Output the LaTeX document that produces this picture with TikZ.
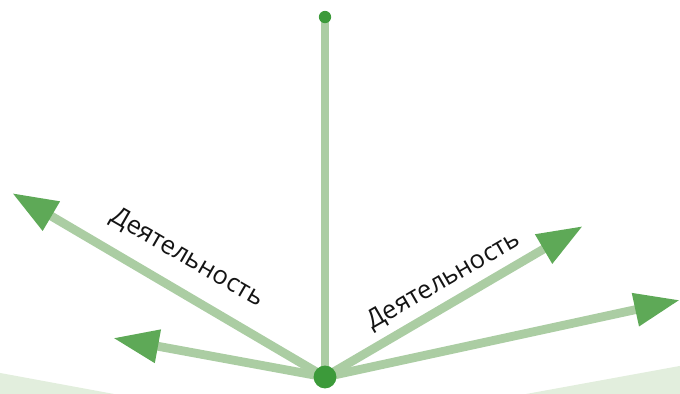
\documentclass[tikz,border=0pt]{standalone}
\usepackage{fontspec}
\setmainfont{Open Sans}
\usepackage{tikz}
\usetikzlibrary{arrows.meta,calc,positioning}
\definecolor{tallo}{HTML}{ABCDA3}
\definecolor{punta}{HTML}{5EA957}
\definecolor{centro}{HTML}{3C9A3A}
\definecolor{suelo}{HTML}{E2EEDD}
\definecolor{tinta}{HTML}{141414}
\tikzset{
  flecha/.style={draw=tallo,line width=5pt,-{Triangle[length=26pt,width=18pt,color=punta]}},
  eje/.style={draw=tallo,line width=4.5pt},
  nodocentro/.style={circle,fill=centro,inner sep=0pt,minimum size=13pt},
  nodotope/.style={circle,fill=centro,inner sep=0pt,minimum size=7pt},
  etiqueta/.style={font=\fontsize{14.5}{16}\selectfont,text=tinta,inner sep=1pt},
}
\begin{document}
\begin{tikzpicture}[x=0.02cm,y=-0.02cm]
\useasboundingbox (0,0) rectangle (680,393);
% suelo
\fill[suelo] (-5,372) -- (125,396) -- (-5,396) -- cycle;
\fill[suelo] (515,396) -- (685,365) -- (685,396) -- cycle;
\coordinate (c0) at (325,377);
\coordinate (c1) at (325,17);
\coordinate (p1) at (12,193);
\coordinate (p2) at (113,338);
\coordinate (p3) at (583,226);
\coordinate (p4) at (680,300);
\draw[eje] (c0) -- (c1);
\draw[flecha] (c0) -- (p1);
\draw[flecha] (c0) -- (p2);
\draw[flecha] (c0) -- (p3);
\draw[flecha] (c0) -- (p4);
\node[nodocentro] (n0) at (c0) {};
\node[nodotope] (n1) at (c1) {};
\node[etiqueta,rotate=-30] (e1) at (187,258) {Деятельность};
\node[etiqueta,rotate=30] (e2) at (444,281) {Деятельность};
\end{tikzpicture}
\end{document}
